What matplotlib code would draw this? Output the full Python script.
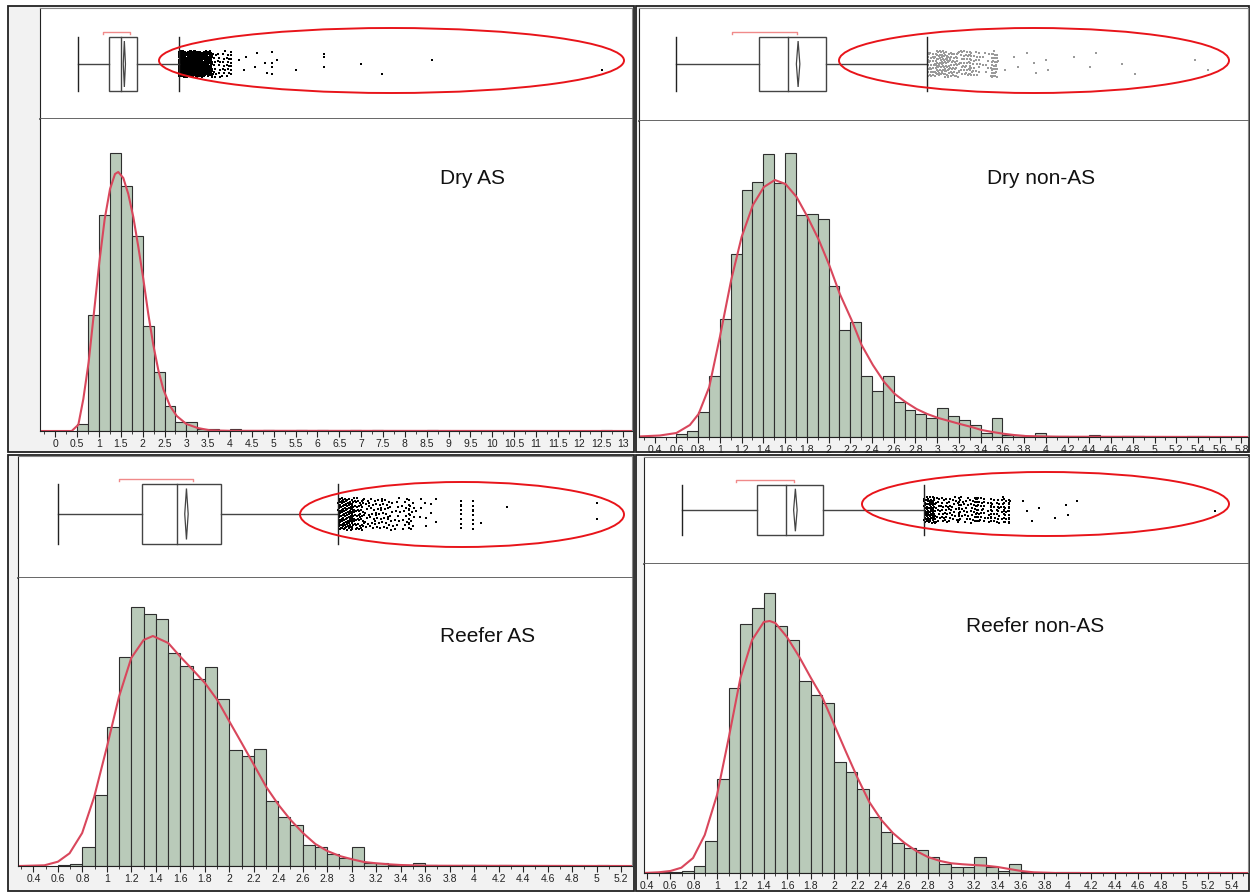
import numpy as np
import matplotlib.pyplot as plt
from matplotlib.patches import Ellipse, Rectangle, Polygon
from matplotlib.ticker import MultipleLocator, FormatStrFormatter

plt.rcParams['font.family'] = ['Liberation Sans', 'DejaVu Sans']

# ---------------- data ----------------
# histogram bins (left edges) and bar heights (relative units)
dry_as_bins = [0.5, 0.75, 1.0, 1.25, 1.5, 1.75, 2.0, 2.25, 2.5, 2.75, 3.0, 3.25, 3.5,
               4.0, 4.75, 5.5, 6.0, 6.75, 7.25, 8.5, 12.5]
dry_as_counts = [7, 116, 216, 278, 245, 195, 105, 59, 25, 9, 9, 2.5, 2.5,
                 2.5, 1.5, 0.8, 0.8, 0.8, 0.8, 0.8, 0.8]
dry_as_fit_x = [-0.36, 0.375, 0.527, 0.641, 0.763, 0.886, 1.008, 1.13, 1.252, 1.366, 1.44,
                1.556, 1.67, 1.785, 1.9, 2.014, 2.128, 2.243, 2.357, 2.47, 2.625, 2.78,
                3.0, 3.26, 3.54, 4.0, 13.2]
dry_as_fit_y = [0, 0, 6.3, 32, 69, 119, 169, 212, 242, 257, 259,
                253, 237, 214, 184, 152, 117, 86, 61, 42, 25, 15,
                7, 3, 0.7, 0.2, 0]

dry_non_bins = [0.6, 0.7, 0.8, 0.9, 1.0, 1.1, 1.2, 1.3, 1.4, 1.5, 1.6, 1.7, 1.8, 1.9,
                2.0, 2.1, 2.2, 2.3, 2.4, 2.5, 2.6, 2.7, 2.8, 2.9, 3.0, 3.1, 3.2, 3.3,
                3.4, 3.5, 3.6, 3.7, 3.8, 3.9, 4.0, 4.1, 4.4, 4.7, 4.8, 5.3, 5.4]
dry_non_counts = [3.3, 5.7, 25, 61, 118, 183, 247, 255, 283, 254, 284, 222, 223, 218,
                  151, 107, 115, 61, 46, 61, 35, 27, 23, 19, 29, 21, 17, 12,
                  4.3, 19, 2.3, 1.7, 0.7, 3.7, 1.3, 0.7, 1.7, 0.5, 0.5, 0.5, 0.5]
dry_non_fit_x = [0.25, 0.448, 0.6, 0.724, 0.804, 0.902, 1.0, 1.104, 1.2, 1.304, 1.405,
                 1.506, 1.604, 1.706, 1.807, 1.911, 2.006, 2.104, 2.212, 2.304, 2.408,
                 2.512, 2.61, 2.708, 2.81, 2.908, 3.01, 3.11, 3.209, 3.316, 3.408,
                 3.509, 3.607, 3.706, 3.807, 3.908, 4.113, 5.86]
dry_non_fit_y = [0.5, 1.5, 4, 12, 23, 50, 100, 157, 200, 232, 250,
                 257, 253, 240, 220, 197, 172, 143, 117, 92, 72,
                 55, 43, 35, 28, 23, 19, 16, 13, 10, 7,
                 5, 3.3, 2, 1, 0.7, 0.3, 0]

reefer_as_bins = [0.6, 0.7, 0.8, 0.9, 1.0, 1.1, 1.2, 1.3, 1.4, 1.5, 1.6, 1.7, 1.8, 1.9,
                  2.0, 2.1, 2.2, 2.3, 2.4, 2.5, 2.6, 2.7, 2.8, 2.9, 3.0, 3.1, 3.2, 3.3,
                  3.4, 3.5, 3.6, 3.9, 4.0, 4.2, 5.0]
reefer_as_counts = [0.7, 1.7, 19, 71, 139, 209, 259, 252, 247, 213, 200, 187, 199, 167,
                    116, 110, 117, 65, 49, 41, 21, 19, 12, 8, 19, 2.7, 3.3, 1.3,
                    0.7, 3.3, 1.3, 1, 1, 0.7, 0.7]
reefer_as_fit_x = [0.28, 0.49, 0.6, 0.695, 0.798, 0.896, 1.0, 1.098, 1.199, 1.3, 1.376,
                   1.501, 1.602, 1.703, 1.801, 1.902, 2.003, 2.101, 2.202, 2.302, 2.403,
                   2.501, 2.602, 2.703, 2.801, 2.902, 3.003, 3.101, 3.202, 3.302, 3.4,
                   3.6, 5.29]
reefer_as_fit_y = [0, 0.7, 4.3, 12.7, 33, 69, 119, 169, 208, 226, 230,
                   223, 209, 196, 183, 166, 144, 123, 101, 79, 61,
                   46, 33, 22, 15, 10, 6.7, 4, 2.7, 1.7, 1,
                   0.3, 0]

reefer_non_bins = [0.5, 0.6, 0.7, 0.8, 0.9, 1.0, 1.1, 1.2, 1.3, 1.4, 1.5, 1.6, 1.7, 1.8,
                   1.9, 2.0, 2.1, 2.2, 2.3, 2.4, 2.5, 2.6, 2.7, 2.8, 2.9, 3.0, 3.1, 3.2,
                   3.3, 3.4, 3.5, 3.6, 3.9, 4.0, 5.2]
reefer_non_counts = [0.7, 1.3, 2, 7.3, 32, 94, 185, 249, 265, 280, 247, 233, 192, 178,
                     170, 111, 101, 84, 56, 41, 30, 25, 23, 16, 9, 5.7, 5.7, 16,
                     6.3, 2.3, 8.7, 0.7, 0.7, 0.7, 0.7]
reefer_non_fit_x = [0.37, 0.501, 0.601, 0.695, 0.795, 0.895, 1.0, 1.1, 1.2, 1.3, 1.4,
                    1.45, 1.499, 1.598, 1.704, 1.803, 1.903, 2.003, 2.103, 2.202, 2.302,
                    2.405, 2.504, 2.604, 2.704, 2.803, 2.909, 3.003, 3.103, 3.194, 3.3,
                    3.4, 3.499, 3.601, 3.707, 3.906, 5.54]
reefer_non_fit_y = [0, 0.7, 2, 5.3, 15, 38, 78, 135, 195, 233, 251,
                    252, 250, 236, 216, 195, 175, 148, 121, 95, 71,
                    53, 40, 30, 22, 16, 12, 9.7, 8.7, 8, 7.3,
                    6, 4, 2, 0.7, 0, 0]

# box plot stats: whisker lo, q1, median, q3, whisker hi, mean, mean ci, shortest half lo/hi
dry_as_box = [0.51, 1.22, 1.51, 1.86, 2.83, 1.58, 0.025, 1.10, 1.70]
dry_non_box = [0.60, 1.36, 1.63, 1.98, 2.91, 1.72, 0.016, 1.11, 1.71]
reefer_as_box = [0.60, 1.29, 1.57, 1.93, 2.89, 1.65, 0.014, 1.10, 1.70]
reefer_non_box = [0.70, 1.34, 1.59, 1.91, 2.77, 1.67, 0.015, 1.16, 1.66]

# outliers: dense ranges (lo, hi, n), stacked columns (x, n), single points
dry_as_out_lo = [2.83, 3.0, 3.3, 3.6]
dry_as_out_hi = [3.0, 3.3, 3.6, 4.0]
dry_as_out_n = [170, 190, 110, 35]
dry_as_col_x = [4.01, 4.97]
dry_as_col_n = [8, 4]
dry_as_single = [4.2, 4.32, 4.36, 4.57, 4.61, 4.8, 4.85, 5.08, 5.5, 6.14, 6.14, 6.14,
                 6.99, 7.47, 8.62, 12.51]

dry_non_out_lo = [2.91, 3.0, 3.1, 3.2, 3.3, 3.4, 3.5]
dry_non_out_hi = [3.0, 3.1, 3.2, 3.3, 3.4, 3.5, 3.56]
dry_non_out_n = [35, 55, 42, 34, 24, 10, 30]
dry_non_col_x = [3.0, 3.3]
dry_non_col_n = [8, 8]
dry_non_single = [3.62, 3.71, 3.74, 3.83, 3.89, 3.91, 4.0, 4.02, 4.26, 4.41, 4.46,
                  4.70, 4.82, 5.37, 5.49]

reefer_as_out_lo = [2.89, 3.0, 3.1, 3.3, 3.53]
reefer_as_out_hi = [3.0, 3.1, 3.3, 3.53, 3.7]
reefer_as_out_n = [90, 55, 55, 40, 10]
reefer_as_col_x = [3.0, 3.47, 3.89, 3.99]
reefer_as_col_n = [15, 10, 10, 10]
reefer_as_single = [4.06, 4.27, 5.0, 5.0]

reefer_non_out_lo = [2.77, 2.87, 3.0, 3.2, 3.3, 3.4]
reefer_non_out_hi = [2.87, 3.0, 3.2, 3.3, 3.4, 3.52]
reefer_non_out_n = [70, 40, 45, 30, 20, 25]
reefer_non_col_x = [2.85, 3.07, 3.22, 3.34, 3.45, 3.50]
reefer_non_col_n = [12, 10, 12, 10, 12, 12]
reefer_non_single = [3.62, 3.65, 3.69, 3.75, 3.89, 3.98, 4.0, 4.08, 5.26]

labels = ['Dry AS', 'Dry non-AS', 'Reefer AS', 'Reefer non-AS']

# ---------------- drawing ----------------
W, H = 1250, 893
fig = plt.figure(figsize=(W / 100, H / 100), dpi=100)


def frac(l, t, r, b):
    return [l / W, 1 - b / H, (r - l) / W, (b - t) / H]


BAR = '#b9cab9'
FIT = '#d9475c'
LINE = '#444444'
A1, A2 = 0.7548776662, 0.5698402910  # quasi-even jitter


def draw(lay, bins, counts, bw, fx, fy, box, olo, ohi, on, colx, coln, single, dot, label):
    l, t, r, s, b = lay['rect']
    xlim = lay['xlim']
    # panel background
    fig.patches.append(Rectangle((lay['bg'][0] / W, 1 - lay['bg'][3] / H),
                                 (lay['bg'][2] - lay['bg'][0]) / W,
                                 (lay['bg'][3] - lay['bg'][1]) / H,
                                 transform=fig.transFigure, fc='#f2f2f2',
                                 ec='#222222', lw=1.3, zorder=-1))

    # ---- box plot strip
    bax = fig.add_axes(frac(l, t, r, s))
    bax.set_xlim(xlim)
    bax.set_ylim(0, s - t)
    bax.set_xticks([])
    bax.set_yticks([])
    for sp in bax.spines.values():
        sp.set_color('#888888')
    bax.spines['bottom'].set_color('#5a5a5a')
    bax.spines['bottom'].set_linewidth(1.3)
    bax.spines['left'].set_color('#222222')
    yc = s - lay['cy']
    hh = lay['half']
    wlo, q1, med, q3, whi, mean, ci, slo, shi = box
    bax.add_patch(Rectangle((q1, yc - hh), q3 - q1, 2 * hh, fill=False, ec=LINE, lw=1))
    bax.plot([med, med], [yc - hh, yc + hh], color=LINE, lw=1)
    bax.plot([wlo, q1], [yc, yc], color=LINE, lw=1)
    bax.plot([q3, whi], [yc, yc], color=LINE, lw=1)
    bax.plot([wlo, wlo], [yc - hh, yc + hh], color='#222222', lw=1)
    bax.plot([whi, whi], [yc - hh, yc + hh], color='#222222', lw=1)
    dh = hh * 0.85
    bax.add_patch(Polygon([(mean - ci, yc), (mean, yc + dh), (mean + ci, yc), (mean, yc - dh)],
                          closed=True, fill=False, ec=LINE, lw=0.9))
    yb = yc + hh + 5
    bax.plot([slo, slo, shi, shi], [yb - 2, yb, yb, yb - 2], color='#f08a8a', lw=1)

    xs, ys = [], []
    k = 0
    band = lay['band']
    for lo, hi, n in zip(olo, ohi, on):
        for i in range(n):
            k += 1
            xs.append(lo + (hi - lo) * ((0.5 + k * A1) % 1))
            ys.append(yc + band * (2 * ((0.5 + k * A2) % 1) - 1))
    for x, n in zip(colx, coln):
        for i in range(n):
            k += 1
            xs.append(x)
            ys.append(yc + band * (2 * ((0.5 + k * A2) % 1) - 1))
    for x in single:
        k += 1
        xs.append(x)
        ys.append(yc + band * 0.9 * (2 * ((0.5 + k * A2) % 1) - 1))
    bax.scatter(xs, ys, s=1.8, marker='s', color=dot, linewidths=0)

    # ---- histogram
    hax = fig.add_axes(frac(l, s, r, b))
    hax.set_xlim(xlim)
    hax.set_ylim(0, b - s)
    hax.bar(bins, counts, width=bw, align='edge', color=BAR, edgecolor='#2e2e2e', lw=0.8)
    hax.plot(fx, fy, color=FIT, lw=1.5)
    hax.set_yticks([])
    hax.spines['top'].set_visible(False)
    hax.spines['right'].set_color('#888888')
    hax.spines['left'].set_color('#222222')
    hax.spines['bottom'].set_color('#222222')
    hax.xaxis.set_major_locator(MultipleLocator(lay['major']))
    hax.xaxis.set_minor_locator(MultipleLocator(lay['minor']))
    hax.xaxis.set_major_formatter(FormatStrFormatter('%g'))
    hax.tick_params(axis='x', which='major', length=4, width=0.8, labelsize=7.5,
                    pad=2, colors='#222222')
    hax.tick_params(axis='x', which='minor', length=2.5, width=0.6, colors='#222222')

    # label and red ellipse
    fig.text(lay['lab'][0] / W, 1 - lay['lab'][1] / H, label, fontsize=15,
             ha='center', va='center', color='#111111')
    ex, ey, ew, eh = lay['ell']
    fig.patches.append(Ellipse((ex / W, 1 - ey / H), ew / W, eh / H,
                               transform=fig.transFigure, fill=False,
                               ec='#e8141a', lw=1.4, zorder=5))


lay1 = dict(rect=(39.6, 8, 632, 119, 431), xlim=(-0.36, 13.2), bg=(8, 6, 634, 452),
            cy=64, half=27, band=13, major=0.5, minor=0.25,
            lab=(472, 178), ell=(391.5, 60.5, 465, 65))
lay2 = dict(rect=(638.7, 8, 1248, 121, 437), xlim=(0.253, 5.86), bg=(636, 6, 1249, 452),
            cy=64, half=27, band=13, major=0.2, minor=0.1,
            lab=(1041, 178), ell=(1034, 60.5, 390, 65))
lay3 = dict(rect=(18.4, 456, 632, 578, 866), xlim=(0.277, 5.29), bg=(8, 455, 634, 891),
            cy=514, half=30, band=16, major=0.2, minor=0.1,
            lab=(488, 637), ell=(462, 514.5, 324, 65))
lay4 = dict(rect=(643.8, 457, 1248, 564, 873), xlim=(0.374, 5.54), bg=(636, 455, 1249, 891),
            cy=510, half=25, band=13, major=0.2, minor=0.1,
            lab=(1035, 626), ell=(1045.5, 504, 367, 64))

draw(lay1, dry_as_bins, dry_as_counts, 0.25, dry_as_fit_x, dry_as_fit_y, dry_as_box,
     dry_as_out_lo, dry_as_out_hi, dry_as_out_n, dry_as_col_x, dry_as_col_n,
     dry_as_single, '#000000', labels[0])
draw(lay2, dry_non_bins, dry_non_counts, 0.1, dry_non_fit_x, dry_non_fit_y, dry_non_box,
     dry_non_out_lo, dry_non_out_hi, dry_non_out_n, dry_non_col_x, dry_non_col_n,
     dry_non_single, '#9a9a9a', labels[1])
draw(lay3, reefer_as_bins, reefer_as_counts, 0.1, reefer_as_fit_x, reefer_as_fit_y,
     reefer_as_box, reefer_as_out_lo, reefer_as_out_hi, reefer_as_out_n,
     reefer_as_col_x, reefer_as_col_n, reefer_as_single, '#000000', labels[2])
draw(lay4, reefer_non_bins, reefer_non_counts, 0.1, reefer_non_fit_x, reefer_non_fit_y,
     reefer_non_box, reefer_non_out_lo, reefer_non_out_hi, reefer_non_out_n,
     reefer_non_col_x, reefer_non_col_n, reefer_non_single, '#000000', labels[3])

fig.savefig('out.png', dpi=100)
